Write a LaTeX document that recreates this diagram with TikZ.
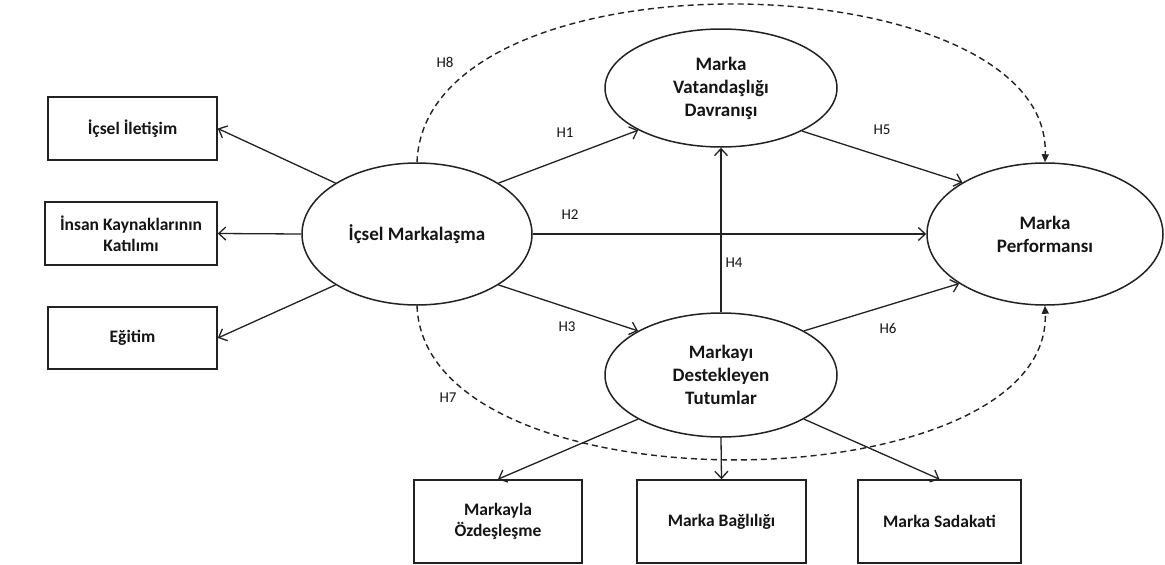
\documentclass[tikz,border=0pt]{standalone}
\usepackage{fontspec}
\setmainfont{Carlito}
\usetikzlibrary{shapes.geometric,arrows.meta}
\definecolor{lc}{HTML}{222222}
\definecolor{tc}{HTML}{151515}
\begin{document}
\begin{tikzpicture}[x=1pt,y=-1pt,
  box/.style={draw=lc,line width=1.6pt,rectangle,inner sep=2pt,align=center,font=\fontsize{17.5}{21}\selectfont\bfseries,text=tc},
  oval/.style={draw=lc,line width=1.5pt,ellipse,inner sep=0pt,align=center,font=\fontsize{19}{23}\selectfont\bfseries,text=tc},
  arr/.style={draw=lc,line width=1.3pt,-{Straight Barb[length=7pt,width=13pt,line width=1.3pt]}},
  hyp/.style={draw=lc,line width=1.4pt,dash pattern=on 6pt off 4pt,-{Triangle[length=8pt,width=7pt]}},
  hl/.style={font=\fontsize{15}{18}\selectfont,text=tc,inner sep=0pt}]
\useasboundingbox (0,0) rectangle (1165,565);
\fill[white] (0,0) rectangle (1165,565);

% left boxes
\node[box,minimum width=169pt,minimum height=63pt] (b1) at (132.5,128.5) {İçsel İletişim};
\node[box,minimum width=172pt,minimum height=63pt] (b2) at (131,233.5) {İnsan Kaynaklarının\\Katılımı};
\node[box,minimum width=169pt,minimum height=62pt] (b3) at (132.5,338) {Eğitim};

% bottom boxes
\node[box,minimum width=168pt,minimum height=83pt] (b4) at (498,521.5) {Markayla\\Özdeşleşme};
\node[box,minimum width=169pt,minimum height=83pt] (b5) at (721.5,521.5) {Marka Bağlılığı};
\node[box,minimum width=163pt,minimum height=83pt] (b6) at (939.5,521.5) {Marka Sadakati};

% ellipses
\node[oval,minimum width=230pt,minimum height=142pt] (im) at (417,234) {İçsel Markalaşma};
\node[oval,minimum width=232pt,minimum height=118pt] (vat) at (721,88) {Marka\\Vatandaşlığı\\Davranışı};
\node[oval,minimum width=236pt,minimum height=142pt] (perf) at (1045,234) {Marka\\Performansı};
\node[oval,minimum width=232pt,minimum height=124pt] (tut) at (721,375) {Markayı\\Destekleyen\\Tutumlar};

% arrows to left boxes
\draw[arr] (im.148) -- (b1.east);
\draw[arr] (im.west) -- (b2.east);
\draw[arr] (im.212) -- (b3.east);

% hypotheses
\draw[arr] (im.32) -- (vat.207.6);
\draw[arr] (im.east) -- (perf.west);
\draw[arr] (im.328) -- (tut.152.9);
\draw[arr] (tut.north) -- (vat.south);
\draw[arr] (vat.332.3) -- (perf.148.2);
\draw[arr] (tut.28.2) -- (perf.210);

% arrows to bottom boxes
\draw[arr] (tut.208.5) -- (b4.north);
\draw[arr] (tut.south) -- (b5.north);
\draw[arr] (tut.332.6) -- (b6.north);

% dashed
\draw[hyp] (im.north) .. controls (425,-55) and (1052,-40) .. (perf.north);
\draw[hyp] (im.south) .. controls (425,515) and (1052,505) .. (perf.south);

% labels
\node[hl] (h8) at (445,62) {H8};
\node[hl] (h1) at (565,133) {H1};
\node[hl] (h2) at (570,215) {H2};
\node[hl] (h3) at (567,327) {H3};
\node[hl] (h7) at (448,398) {H7};
\node[hl] (h4) at (734,263) {H4};
\node[hl] (h5) at (882,130) {H5};
\node[hl] (h6) at (888,328) {H6};
\end{tikzpicture}
\end{document}
